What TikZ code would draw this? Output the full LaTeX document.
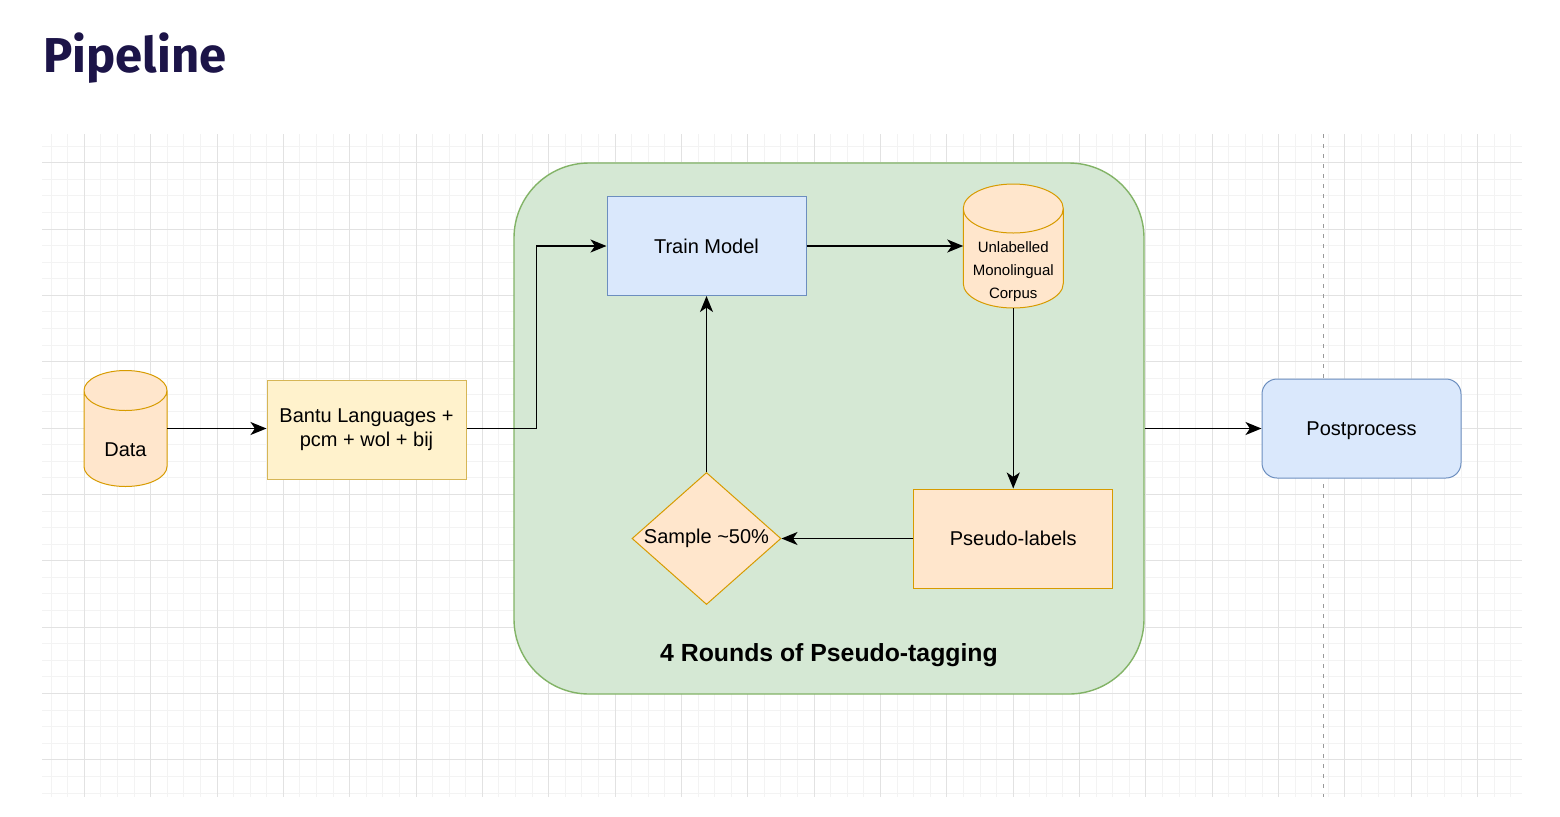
\documentclass[tikz,border=0pt]{standalone}
\usepackage{fontspec}
\setmainfont{Liberation Sans}
\newfontfamily\headfont{Fira Sans}
\usetikzlibrary{arrows.meta,shapes.geometric,calc,positioning}
\definecolor{inkhead}{HTML}{1C1448}
\definecolor{gridminor}{HTML}{F3F3F3}
\definecolor{gridmajor}{HTML}{E2E2E2}
\definecolor{greenfill}{HTML}{D5E8D4}
\definecolor{greenline}{HTML}{82B366}
\definecolor{bluefill}{HTML}{DAE8FC}
\definecolor{blueline}{HTML}{6C8EBF}
\definecolor{tanfill}{HTML}{FFE6CC}
\definecolor{tanline}{HTML}{D79B00}
\definecolor{yellowfill}{HTML}{FFF2CC}
\definecolor{yellowline}{HTML}{D6B656}
\newcommand{\drumshape}[4]{%
  \draw[drumline] ($(#1)+(-#2,#3-#4)$) -- ($(#1)+(-#2,#4-#3)$)
    arc[start angle=180,end angle=360,x radius=#2,y radius=#4]
    -- ($(#1)+(#2,#3-#4)$)
    arc[start angle=0,end angle=180,x radius=#2,y radius=#4] -- cycle
    ($(#1)+(-#2,#3-#4)$) arc[start angle=180,end angle=360,x radius=#2,y radius=#4];}

\begin{document}
\begin{tikzpicture}[x=0.5pt,y=-0.5pt,
    flow/.style={-{Stealth[length=8pt,width=6.5pt,inset=2.2pt]},line width=0.7pt},
    procbox/.style={rectangle,draw,line width=0.5pt,minimum width=99.5pt,minimum height=49.5pt,align=center,inner sep=2pt},
    drum/.style={rectangle,inner sep=0pt,outer sep=0pt},
    drumline/.style={draw=tanline,fill=tanfill,line width=0.5pt},
    drumtext/.style={inner sep=0pt,anchor=center},
    loopbox/.style={rectangle,draw=greenline,fill=greenfill,line width=0.7pt,rounded corners=37.5pt,minimum width=315pt,minimum height=265.5pt},
    looptitle/.style={inner sep=0pt,font=\fontsize{12.4}{14}\selectfont\bfseries},
    guide/.style={draw=black!40,line width=0.5pt,dash pattern=on 2pt off 3pt}]
  \useasboundingbox (0,0) rectangle (1560,816);
  \begin{scope}[line width=0.5pt]
    \foreach \k in {2,...,90}
      \draw[gridminor] ({17.95+16.5875*\k},134) -- ({17.95+16.5875*\k},797);
    \foreach \k in {3,...,42}
      \draw[gridminor] (42,{96.35+16.5875*\k}) -- (1522,{96.35+16.5875*\k});
    \foreach \k in {1,...,22}
      \draw[gridmajor] ({17.95+66.35*\k},134) -- ({17.95+66.35*\k},797);
    \foreach \k in {1,...,10}
      \draw[gridmajor] (42,{96.35+66.35*\k}) -- (1522,{96.35+66.35*\k});
  \end{scope}
  \draw[guide] (1323.3,134) -- (1323.3,797);
  \draw (43,72) node[anchor=base west,inner sep=0pt,text=inkhead,font=\headfont\bfseries\fontsize{24.5}{28}\selectfont] (title) {Pipeline};

  \node[loopbox,label={[looptitle,anchor=base,yshift=16.75pt]south:4 Rounds of Pseudo-tagging}] (rounds) at (829,428.5) {};

  \coordinate (datapos) at (125.5,428.5);
  \drumshape{datapos}{20.75pt}{29pt}{10pt}
  \node[drum,minimum width=41.5pt,minimum height=58pt,label={[drumtext,yshift=-10.5pt]center:Data}] (data) at (datapos) {};
  \node[procbox,draw=yellowline,fill=yellowfill] (bantu) at (366.5,429.5) {Bantu Languages +\\pcm + wol + bij};
  \node[procbox,draw=blueline,fill=bluefill] (train) at (706.5,246) {Train Model};
  \coordinate (corpuspos) at (1013.25,246);
  \drumshape{corpuspos}{25pt}{31pt}{12.25pt}
  \node[drum,minimum width=50pt,minimum height=62pt,label={[drumtext,align=center,font=\fontsize{7.5}{11.5}\selectfont,yshift=-13pt]center:{Unlabelled\\Monolingual\\Corpus}}] (corpus) at (corpuspos) {};
  \node[procbox,draw=tanline,fill=tanfill] (pseudo) at (1013.25,538.5) {Pseudo-labels};
  \node[diamond,aspect=1.13,draw=tanline,fill=tanfill,line width=0.5pt,minimum width=74.5pt,minimum height=66pt,inner sep=0pt] (sample) at (706.5,538.5) {Sample \textasciitilde50\%};
  \node[procbox,draw=blueline,fill=bluefill,rounded corners=7.5pt,text depth=0pt] (post) at (1361.5,428.5) {Postprocess};

  \draw[flow] (data.east) -- (bantu.west |- data.east);
  \draw[flow] (bantu.east |- data.east) -| ($(bantu.east)!.5!(train.west)$) |- (train.west);
  \draw[flow] (train) -- (corpus);
  \draw[flow] (corpus) -- (pseudo);
  \draw[flow] (pseudo) -- (sample);
  \draw[flow] (sample) -- (train);
  \draw[flow] (rounds) -- (post);
\end{tikzpicture}
\end{document}
